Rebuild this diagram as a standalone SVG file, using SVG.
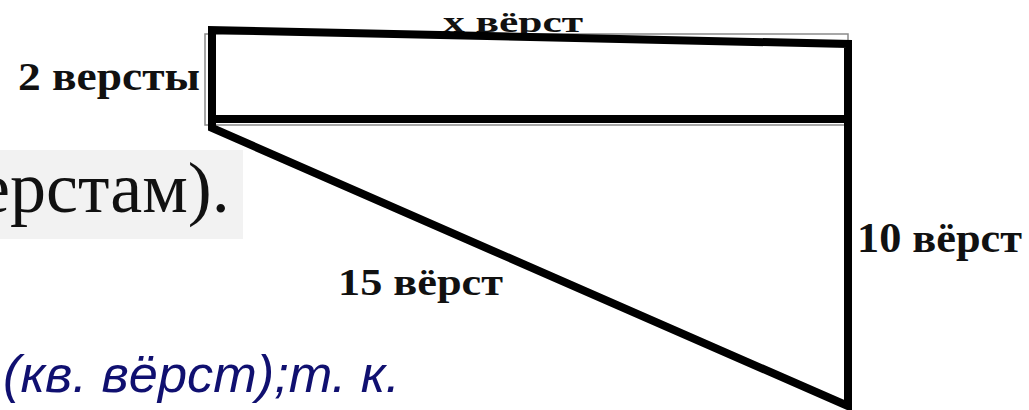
<svg xmlns="http://www.w3.org/2000/svg" width="1029" height="410" viewBox="0 0 1029 410">
<style>
.lbl{font-family:"Liberation Serif","Times New Roman",serif;font-weight:bold;fill:#111;}
.edge{fill:none;stroke:#000;stroke-width:8;stroke-linejoin:miter;}
.ghost{fill:none;stroke:#8a8a8a;stroke-width:1.5;}
.note{font-family:"Liberation Sans",Arial,sans-serif;font-style:italic;fill:#101070;}
</style>
<rect width="1029" height="410" fill="#fff"/>
<g id="fragment">
<rect x="0" y="150" width="243" height="89" fill="#f2f2f2"/>
<text x="-22" y="212" font-family="'Liberation Serif','Times New Roman',serif" font-size="72" fill="#111">ерстам).</text>
</g>
<g id="label-x">
<text class="lbl" x="443" y="32" font-size="30" textLength="140" lengthAdjust="spacingAndGlyphs">x вёрст</text>
</g>
<g id="label-2">
<text class="lbl" x="18" y="90" font-size="40" textLength="182" lengthAdjust="spacingAndGlyphs">2 версты</text>
</g>
<g id="label-15">
<text class="lbl" x="338" y="295" font-size="38" textLength="165" lengthAdjust="spacingAndGlyphs">15 вёрст</text>
</g>
<g id="label-10">
<text class="lbl" x="857" y="252" font-size="42" textLength="165" lengthAdjust="spacingAndGlyphs">10 вёрст</text>
</g>
<g id="connectors">
<rect class="ghost" x="205" y="34" width="643" height="91"/>
<path class="edge" d="M848,406 L212,128 L212,30 L848,44 Z"/>
<line class="edge" x1="212" y1="119" x2="848" y2="119"/>
</g>
<g id="note">
<text class="note" x="3" y="392" font-size="52" textLength="397" lengthAdjust="spacingAndGlyphs">(кв. вёрст);т. к.</text>
</g>
</svg>
